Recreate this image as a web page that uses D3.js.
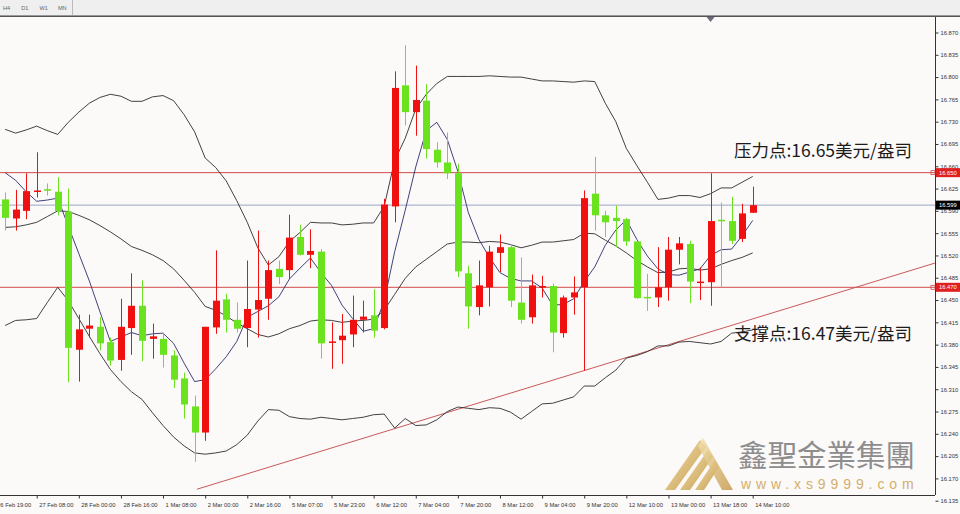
<!DOCTYPE html>
<html><head><meta charset="utf-8">
<script src="https://cdn.jsdelivr.net/npm/d3@7"></script>
<style>
html,body{margin:0;padding:0;background:#fcf9f9;}
svg{display:block}
</style></head><body>
<svg id="c" width="960" height="514"></svg>
<script>
// ---------- data (H4 candles, XAG/USD) ----------
const opens = [16.608,16.578,16.590,16.620,16.624,16.620,16.589,16.372,16.405,16.408,16.384,16.356,16.406,16.441,16.389,16.389,16.363,16.327,16.283,16.242,
16.407,16.451,16.419,16.406,16.435,16.452,16.499,16.497,16.549,16.521,16.526,16.384,16.387,16.396,16.419,16.426,16.406,16.597,16.787,16.745,
16.763,16.686,16.666,16.649,16.492,16.439,16.470,16.524,16.533,16.446,16.423,16.471,16.472,16.398,16.454,16.470,16.617,16.583,16.579,16.577,
16.542,16.455,16.454,16.470,16.529,16.538,16.478,16.478,16.576,16.574,16.546,16.587];
const highs = [16.619,16.623,16.649,16.682,16.633,16.643,16.625,16.427,16.427,16.423,16.391,16.452,16.492,16.481,16.413,16.399,16.371,16.336,16.300,16.408,
16.528,16.460,16.446,16.512,16.559,16.512,16.512,16.584,16.568,16.561,16.530,16.415,16.428,16.457,16.449,16.467,16.609,16.809,16.850,16.818,
16.789,16.698,16.713,16.664,16.504,16.512,16.535,16.553,16.538,16.517,16.490,16.488,16.476,16.457,16.487,16.622,16.675,16.590,16.598,16.579,
16.543,16.491,16.533,16.549,16.549,16.543,16.501,16.649,16.603,16.612,16.601,16.628];
const lows = [16.559,16.559,16.577,16.611,16.614,16.583,16.321,16.322,16.391,16.371,16.347,16.339,16.364,16.354,16.358,16.344,16.312,16.264,16.196,16.229,
16.397,16.399,16.399,16.376,16.391,16.419,16.475,16.483,16.520,16.500,16.358,16.342,16.350,16.376,16.399,16.391,16.404,16.572,16.724,16.708,
16.672,16.658,16.640,16.486,16.405,16.426,16.440,16.494,16.439,16.413,16.413,16.454,16.368,16.391,16.427,16.339,16.559,16.549,16.533,16.535,
16.452,16.433,16.439,16.449,16.506,16.445,16.450,16.441,16.470,16.538,16.541,16.587];
const closes = [16.579,16.592,16.621,16.622,16.623,16.590,16.375,16.404,16.410,16.382,16.355,16.408,16.441,16.386,16.393,16.364,16.325,16.286,16.242,16.408,
16.449,16.419,16.405,16.436,16.450,16.497,16.486,16.548,16.521,16.527,16.382,16.385,16.394,16.419,16.424,16.402,16.600,16.783,16.745,16.764,
16.687,16.666,16.649,16.495,16.440,16.473,16.526,16.533,16.449,16.419,16.473,16.472,16.399,16.454,16.462,16.610,16.583,16.572,16.574,16.542,
16.453,16.454,16.470,16.529,16.539,16.479,16.479,16.574,16.575,16.543,16.586,16.599];

// moving average (5) and Bollinger bands (20, 2) as shown on the chart
const ma5 = [16.650,16.638,16.620,16.605,16.607,16.610,16.566,16.523,16.480,16.432,16.385,16.392,16.399,16.394,16.397,16.398,16.382,16.351,16.322,16.325,
16.342,16.361,16.385,16.423,16.432,16.441,16.455,16.483,16.500,16.516,16.493,16.473,16.442,16.421,16.401,16.405,16.448,16.526,16.591,16.659,
16.716,16.729,16.702,16.652,16.587,16.545,16.517,16.493,16.484,16.480,16.480,16.469,16.442,16.443,16.452,16.479,16.502,16.536,16.560,16.576,
16.545,16.519,16.499,16.490,16.489,16.494,16.499,16.520,16.529,16.530,16.551,16.575];
const bbUpper = [16.718,16.712,16.717,16.723,16.716,16.710,16.729,16.745,16.759,16.768,16.773,16.770,16.762,16.762,16.769,16.771,16.763,16.741,16.714,16.673,
16.658,16.637,16.606,16.572,16.532,16.505,16.518,16.542,16.556,16.572,16.571,16.571,16.568,16.569,16.571,16.571,16.597,16.669,16.704,16.750,
16.773,16.790,16.801,16.801,16.801,16.801,16.802,16.801,16.800,16.800,16.797,16.794,16.794,16.793,16.792,16.794,16.793,16.759,16.730,16.688,
16.661,16.635,16.608,16.610,16.614,16.614,16.611,16.617,16.626,16.626,16.635,16.644];
const bbMiddle = [16.564,16.565,16.568,16.572,16.581,16.590,16.589,16.583,16.576,16.567,16.557,16.546,16.534,16.528,16.521,16.512,16.499,16.481,16.462,16.440,
16.434,16.425,16.414,16.405,16.396,16.392,16.397,16.405,16.410,16.417,16.419,16.418,16.415,16.417,16.418,16.420,16.434,16.459,16.484,16.502,
16.514,16.526,16.538,16.541,16.541,16.540,16.542,16.541,16.537,16.532,16.536,16.541,16.541,16.543,16.545,16.555,16.554,16.544,16.535,16.524,
16.512,16.502,16.493,16.494,16.499,16.500,16.497,16.499,16.506,16.512,16.517,16.524];
const bbLower = [16.410,16.418,16.419,16.421,16.446,16.470,16.449,16.421,16.393,16.366,16.341,16.322,16.306,16.294,16.273,16.253,16.235,16.221,16.210,16.208,
16.210,16.213,16.223,16.238,16.260,16.278,16.277,16.267,16.264,16.263,16.266,16.264,16.262,16.264,16.266,16.270,16.271,16.249,16.264,16.253,
16.254,16.262,16.275,16.282,16.280,16.278,16.281,16.280,16.274,16.263,16.275,16.287,16.288,16.293,16.298,16.315,16.315,16.328,16.340,16.359,
16.363,16.369,16.378,16.378,16.384,16.385,16.383,16.381,16.385,16.398,16.400,16.403];

const xTickBars = [-1,3,7,11,15,19,23,27,31,35,39,43,47,51,55,59,63,67,71];
const xTickLabels = ["26 Feb 19:00","27 Feb 08:00","28 Feb 00:00","28 Feb 16:00","1 Mar 08:00","2 Mar 00:00","2 Mar 16:00","5 Mar 07:00","5 Mar 23:00","6 Mar 12:00","7 Mar 04:00","7 Mar 20:00","8 Mar 12:00","9 Mar 04:00","9 Mar 20:00","12 Mar 10:00","13 Mar 00:00","13 Mar 18:00","14 Mar 10:00"];
const yTickValues = [16.870,16.835,16.800,16.765,16.730,16.695,16.660,16.625,16.590,16.555,16.520,16.485,16.450,16.415,16.380,16.345,16.310,16.275,16.240,16.205,16.170,16.135];
const resistance = 16.650, support = 16.470, bid = 16.599;
const trendStart = {bar:18.22, price:16.153}, trendEnd = {bar:88.3, price:16.508};
const periodButtons = ["H4","D1","W1","MN"];
const resistanceText = "压力点:16.65美元/盎司";
const supportText = "支撑点:16.47美元/盎司";
const logoCN = "鑫聖金業集團", logoURL = "www.xs9999.com";

// ---------- drawing ----------
const svg = d3.select("#c");
const P = {left:0, right:935, top:17, bottom:495};
const x = d3.scaleLinear().domain([0,71]).range([5.1,752.7]);
const y = d3.scaleLinear().domain([16.135,16.870]).range([500.7,32.5]);
const UP = "#f01010", DOWN = "#6be21e";
const axisFont = "'Liberation Sans', Arial, sans-serif";

svg.append("rect").attr("width",960).attr("height",514).attr("fill","#fcf9f9");

// toolbar
svg.append("rect").attr("x",0).attr("y",0).attr("width",960).attr("height",15).attr("fill","#efefef");
svg.append("line").attr("x1",0).attr("x2",960).attr("y1",15.5).attr("y2",15.5).attr("stroke","#9a9a9a");
svg.append("line").attr("x1",0).attr("x2",960).attr("y1",16.5).attr("y2",16.5).attr("stroke","#555");
svg.append("line").attr("x1",72.5).attr("x2",72.5).attr("y1",0).attr("y2",15).attr("stroke","#bbb");
periodButtons.forEach((b,i)=>{
  svg.append("text").attr("x",3+i*18.3).attr("y",9.5).attr("font-family",axisFont).attr("font-size",5.6)
    .attr("fill","#666").text(b);
});

// logo watermark
const defs = svg.append("defs");
const g1 = defs.append("linearGradient").attr("id","gold").attr("x1","0").attr("y1","0").attr("x2","1").attr("y2","1");
g1.append("stop").attr("offset","0").attr("stop-color","#f3e3b0");
g1.append("stop").attr("offset","1").attr("stop-color","#c59a4c");
defs.append("clipPath").attr("id","plotclip").append("rect")
  .attr("x",P.left).attr("y",P.top).attr("width",P.right-P.left).attr("height",P.bottom-P.top);

const logo = svg.append("g");
logo.append("path").attr("d","M700,440 L706,447 L675,490 L665,490 Z").attr("fill","url(#gold)");
logo.append("path").attr("d","M708,450 L713,457 L690,490 L680,490 Z").attr("fill","url(#gold)");
logo.append("path").attr("d","M715,460 L719,467 L704,490 L695,490 Z").attr("fill","url(#gold)");
logo.append("path").attr("d","M703,438 L733,490 L722,490 L698,446 Z").attr("fill","url(#gold)").attr("opacity",0.85);
logo.append("text").attr("x",738).attr("y",466).attr("font-family","'Noto Sans CJK TC','Noto Sans CJK SC',sans-serif")
  .attr("font-size",29.5).attr("fill","#8d8d8d").text(logoCN);
logo.append("text").attr("x",741).attr("y",489).attr("font-family",axisFont)
  .attr("font-size",14).attr("letter-spacing",4.9).attr("fill","#d3b069").text(logoURL);

const plot = svg.append("g").attr("clip-path","url(#plotclip)");

// horizontal lines
plot.append("line").attr("x1",P.left).attr("x2",P.right).attr("y1",y(bid)).attr("y2",y(bid)).attr("stroke","#9aa6c2").attr("stroke-width",1);
[resistance,support].forEach(v=>{
  plot.append("line").attr("x1",P.left).attr("x2",P.right).attr("y1",y(v)).attr("y2",y(v)).attr("stroke","#d24a4a").attr("stroke-width",1);
});

// trend line
plot.append("line").attr("x1",x(trendStart.bar)).attr("y1",y(trendStart.price))
  .attr("x2",x(trendEnd.bar)).attr("y2",y(trendEnd.price)).attr("stroke","#c85a5a").attr("stroke-width",1);

// indicator lines
const line = d3.line().x((d,i)=>x(i)).y(d=>y(d));
[bbUpper,bbMiddle,bbLower].forEach(arr=>{
  plot.append("path").attr("d",line(arr)).attr("fill","none").attr("stroke","#2c2c2c").attr("stroke-width",0.9);
});
plot.append("path").attr("d",line(ma5)).attr("fill","none").attr("stroke","#2a2f6a").attr("stroke-width",0.9);

// candles
const bw = 7;
const candles = plot.selectAll("g.candle").data(opens.map((o,i)=>({i,o,h:highs[i],l:lows[i],c:closes[i]})))
  .enter().append("g");
candles.append("line").attr("x1",d=>Math.round(x(d.i))+0.5).attr("x2",d=>Math.round(x(d.i))+0.5)
  .attr("y1",d=>y(d.h)).attr("y2",d=>y(d.l)).attr("stroke",d=>d.c>=d.o?UP:DOWN).attr("stroke-width",1);
candles.append("rect").attr("x",d=>Math.round(x(d.i))+0.5-bw/2)
  .attr("y",d=>y(Math.max(d.o,d.c)))
  .attr("width",bw).attr("height",d=>Math.max(1.5,Math.abs(y(d.o)-y(d.c))))
  .attr("fill",d=>d.c>=d.o?UP:DOWN);

// frame
svg.append("line").attr("x1",P.right+0.5).attr("x2",P.right+0.5).attr("y1",P.top).attr("y2",P.bottom).attr("stroke","#333");
svg.append("line").attr("x1",P.left).attr("x2",P.right).attr("y1",P.bottom+0.5).attr("y2",P.bottom+0.5).attr("stroke","#333");

// price axis
const ya = svg.append("g").attr("transform",`translate(${P.right+0.5},0)`)
  .call(d3.axisRight(y).tickValues(yTickValues).tickSize(3).tickPadding(2).tickFormat(d3.format(".3f")));
ya.select(".domain").remove();
ya.selectAll("line").attr("stroke","#333");
ya.selectAll("text").attr("font-family",axisFont).attr("font-size",5.8).attr("fill","#333");

// time axis
const xa = svg.append("g").attr("transform",`translate(0,${P.bottom+0.5})`)
  .call(d3.axisBottom(x).tickValues(xTickBars).tickSize(3).tickFormat((d,i)=>xTickLabels[i]));
xa.select(".domain").remove();
xa.selectAll("line").attr("stroke","#333");
xa.selectAll("text").attr("text-anchor","start").attr("x",2).attr("y",7).attr("dy","0.71em")
  .attr("font-family",axisFont).attr("font-size",5.8).attr("fill","#333");

// price tags on axis
[[resistance,"#e02020"],[support,"#e02020"],[bid,"#000"]].forEach(([v,col])=>{
  svg.append("rect").attr("x",P.right+1).attr("y",y(v)-4.5).attr("width",25).attr("height",9).attr("fill",col);
  svg.append("text").attr("x",P.right+4).attr("y",y(v)+2).attr("font-family",axisFont).attr("font-size",5.8)
    .attr("fill","#fff").text(d3.format(".3f")(v));
});
[resistance,support].forEach(v=>{
  svg.append("rect").attr("x",P.right-4).attr("y",y(v)-2).attr("width",4).attr("height",4)
    .attr("fill","none").attr("stroke","#d24a4a").attr("stroke-width",0.8);
});

// shift marker
svg.append("path").attr("d",`M${x(67)-4},17 L${x(67)+4},17 L${x(67)},22 Z`).attr("fill","#6b6b7b");

// annotations
const cjk = "'Noto Sans CJK SC','Noto Sans CJK TC',sans-serif";
svg.append("text").attr("x",734).attr("y",157).attr("font-family",cjk).attr("font-size",17.5).attr("fill","#1c1c1c").text(resistanceText);
svg.append("text").attr("x",734).attr("y",340).attr("font-family",cjk).attr("font-size",17.5).attr("fill","#1c1c1c").text(supportText);
</script>
</body></html>
